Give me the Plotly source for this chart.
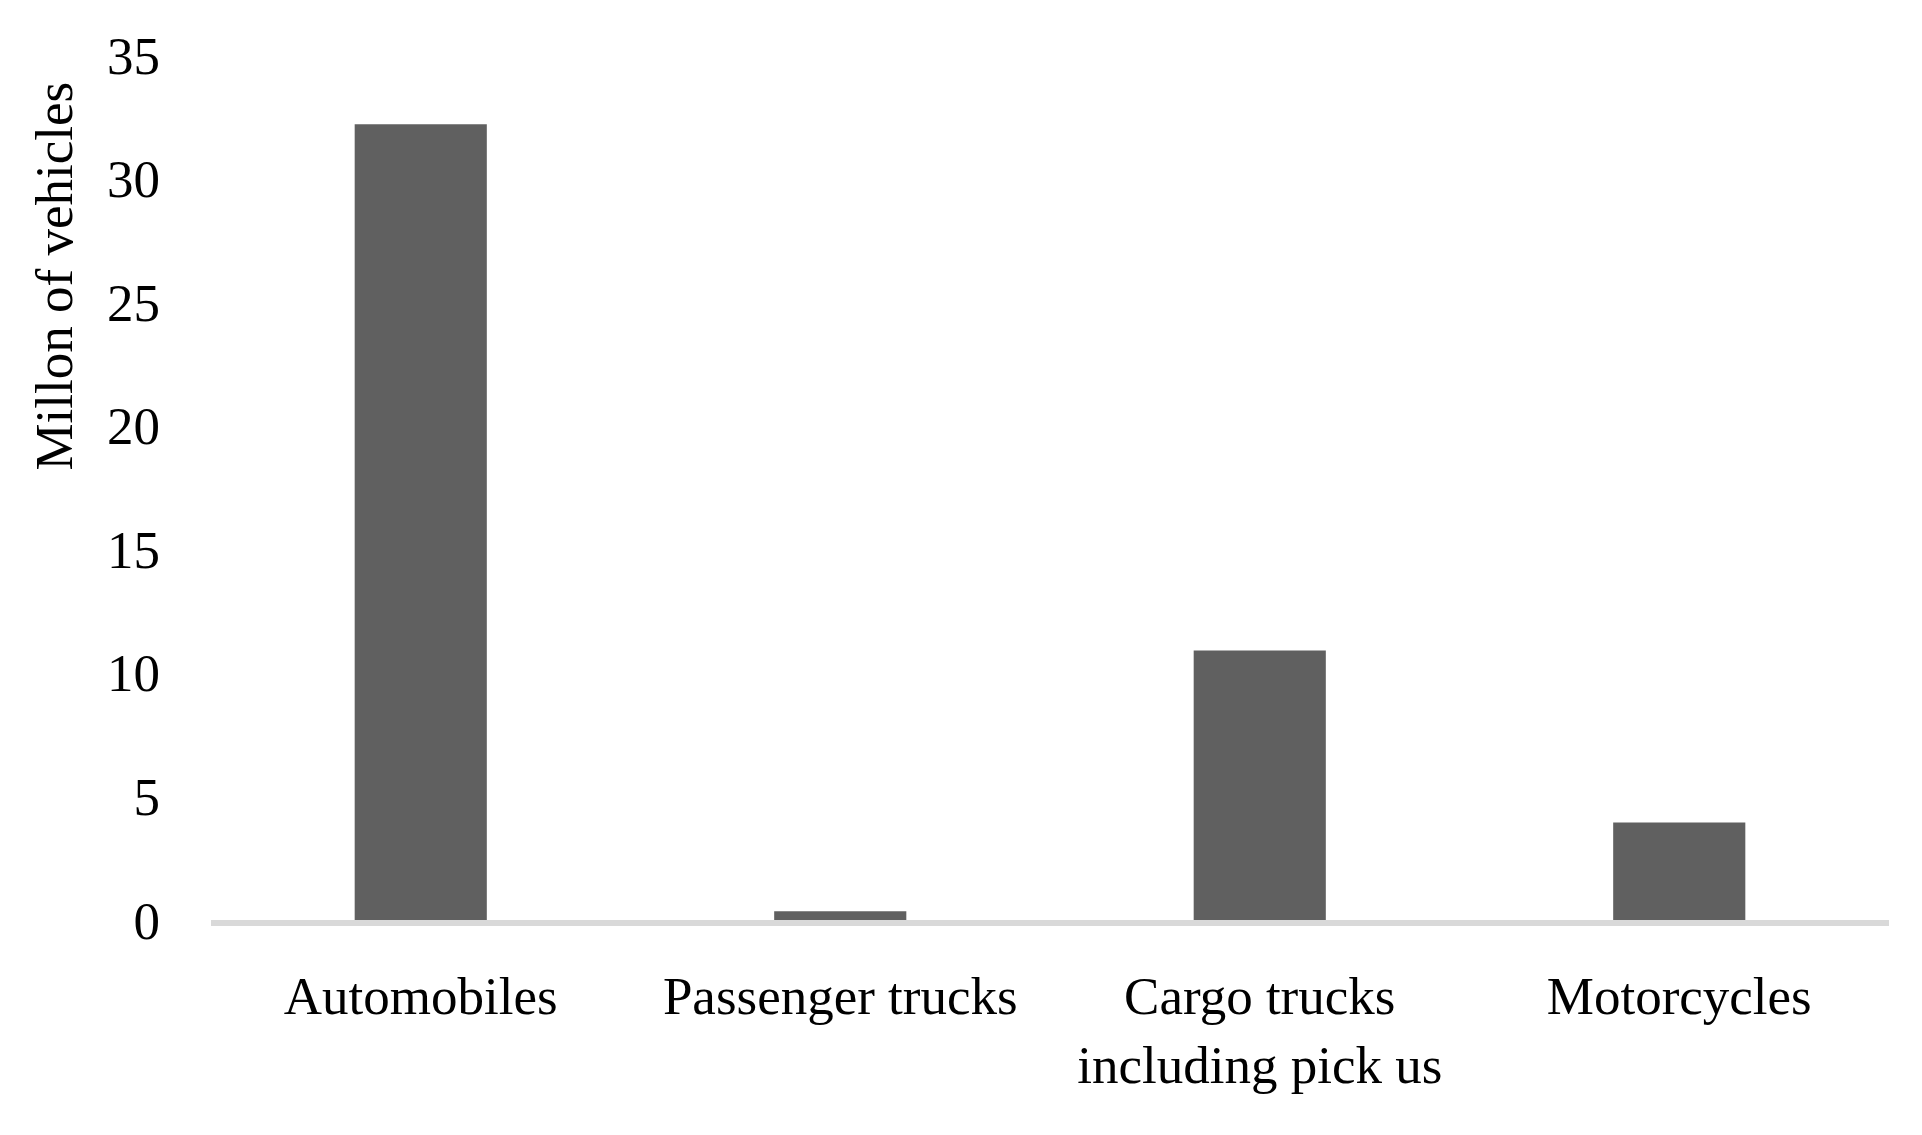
# Bar chart of registered vehicles by type
import plotly.graph_objects as go

# Values
categories = ["Automobiles", "Passenger trucks", "Cargo trucks<br>including pick us", "Motorcycles"]
vehicles = [32.2, 0.35, 10.9, 3.95]
y_ticks = [0, 5, 10, 15, 20, 25, 30, 35]

serif = "Liberation Serif, Times New Roman, serif"

fig = go.Figure()

fig.add_trace(
    go.Bar(x=categories, y=vehicles, marker=dict(color="#606060", line=dict(width=0)))
)

# Y axis title sits high up on the left, so it is an annotation
fig.add_annotation(
    text="Millon of vehicles",
    xref="paper", yref="paper",
    x=-0.0936, y=0.745,
    xanchor="center", yanchor="middle",
    textangle=-90, showarrow=False,
    font=dict(family=serif, size=53, color="black")
)

fig.update_layout(
    width=1922, height=1135,
    margin=dict(l=203, r=41, t=47, b=223),
    plot_bgcolor="white", paper_bgcolor="white",
    bargap=0.685,
    showlegend=False,
    font=dict(family=serif, size=53, color="black")
)

fig.update_xaxes(
    showgrid=False,
    showline=True, linecolor="#d9d9d9", linewidth=6,
    ticks="outside", ticklen=24, tickcolor="rgba(0,0,0,0)",
    tickfont=dict(family=serif, size=53, color="black")
)

fig.update_yaxes(
    range=[0, 35], tickvals=y_ticks,
    showgrid=False, zeroline=False, showline=False,
    ticklabelstandoff=50,
    tickfont=dict(family=serif, size=53, color="black")
)

fig.write_html("out.html")
